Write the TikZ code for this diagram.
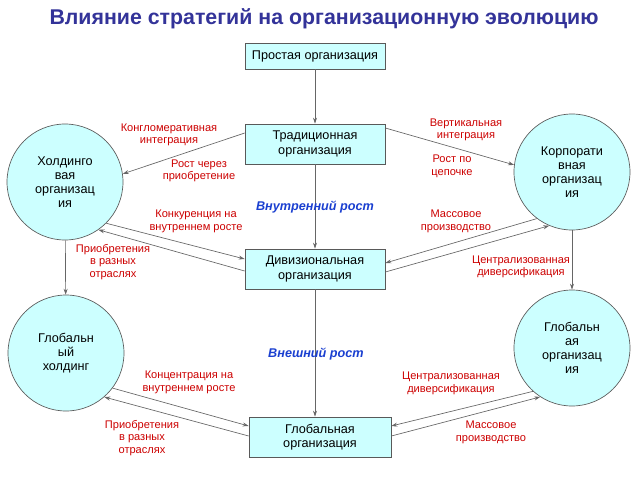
\documentclass[tikz,border=0pt]{standalone}
\usepackage{fontspec}
\setmainfont{Liberation Sans}
\usetikzlibrary{arrows.meta}
\definecolor{titleblue}{HTML}{333399}
\definecolor{boxcyan}{HTML}{CCFFFF}
\definecolor{labelred}{HTML}{CC0000}
\definecolor{growblue}{HTML}{1A3FD0}
\begin{document}
\begin{tikzpicture}[x=0.75pt, y=-0.75pt,
                    line width=0.5pt,
                    >={Stealth[length=4.5pt,width=3pt]},
                    ]
    \tikzstyle{box}=[draw=black!65, fill=boxcyan, minimum width=105pt, minimum height=30pt, align=center, inner sep=1pt, font=\fontsize{9.5}{11}\selectfont]
    \tikzstyle{org}=[circle, draw=black!65, fill=boxcyan, minimum size=87pt, inner sep=0pt, align=center, font=\fontsize{9.5}{10.5}\selectfont]
    \tikzstyle{strat}=[text=labelred, align=center, font=\fontsize{8.3}{9.5}\selectfont]
    \tikzstyle{growth}=[text=growblue, font=\fontsize{9.5}{11}\selectfont\bfseries\itshape]
    \tikzstyle{link}=[draw=black!60, ->]

    \useasboundingbox (0,0) rectangle (640,480);

    \node[text=titleblue, font=\fontsize{16}{19}\selectfont\bfseries] (title) at (324,19) {Влияние стратегий на организационную эволюцию};

    \node[box, minimum height=19.5pt] (simple) at (315,56) {Простая организация};
    \node[box] (trad) at (315,144) {Традиционная\\организация};
    \node[box] (div) at (315,269) {Дивизиональная\\организация};
    \node[box, minimum width=106.5pt] (glob) at (320,437) {Глобальная\\организация};

    \node[org] (hold) at (65,182) {Холдинго\\вая\\организац\\ия};
    \node[org] (corp) at (572,172) {Корпорати\\вная\\организац\\ия};
    \node[org] (ghold) at (66,353) {Глобальн\\ый\\холдинг};
    \node[org] (gorg) at (572,348) {Глобальн\\ая\\организац\\ия};

    \path[link] (simple) -- (trad);
    \path[link] (trad) -- (div);
    \path[link] (div.south) -- (div.south |- glob.north);
    \path[link] (hold) -- (ghold);
    \path[link] (corp) -- (gorg);

    \path[link] ([yshift=8.25pt]trad.west) -- (hold.8);
    \path[link] ([yshift=12pt]trad.east) -- (corp.173);

    \path[link] (hold.-45) -- ([yshift=7.5pt]div.west);
    \path[link] ([yshift=-1.5pt]div.west) -- (hold.-55);
    \path[link] (corp.233) -- ([yshift=4.5pt]div.east);
    \path[link] ([yshift=-2.25pt]div.east) -- (corp.247);

    \path[link] (ghold.-37) -- ([yshift=8.25pt]glob.west);
    \path[link] ([yshift=0.75pt]glob.west) -- (ghold.-49);
    \path[link] (gorg.228) -- ([yshift=8.25pt]glob.east);
    \path[link] ([yshift=0.75pt]glob.east) -- (gorg.237);

    \node[strat] (congl) at (169,135) {Конгломеративная\\интеграция};
    \node[strat] (acqgrow) at (199,171) {Рост через\\приобретение};
    \node[strat] (compet) at (196,221) {Конкуренция на\\внутреннем росте};
    \node[strat] (acqdiv) at (113,262) {Приобретения\\в разных\\отраслях};
    \node[strat] (vert) at (466,130) {Вертикальная\\интеграция};
    \node[strat] (chain) at (452,166) {Рост по\\цепочке};
    \node[strat] (mass) at (456,221) {Массовое\\производство};
    \node[strat] (centr) at (521,267) {Централизованная\\диверсификация};
    \node[strat] (concen) at (189,382) {Концентрация на\\внутреннем росте};
    \node[strat] (gacqdiv) at (142,438) {Приобретения\\в разных\\отраслях};
    \node[strat] (gcentr) at (451,383) {Централизованная\\диверсификация};
    \node[strat] (gmass) at (491,432) {Массовое\\производство};

    \node[growth] (inner) at (315,207) {Внутренний рост};
    \node[growth] (outer) at (316,354) {Внешний рост};
\end{tikzpicture}
\end{document}
